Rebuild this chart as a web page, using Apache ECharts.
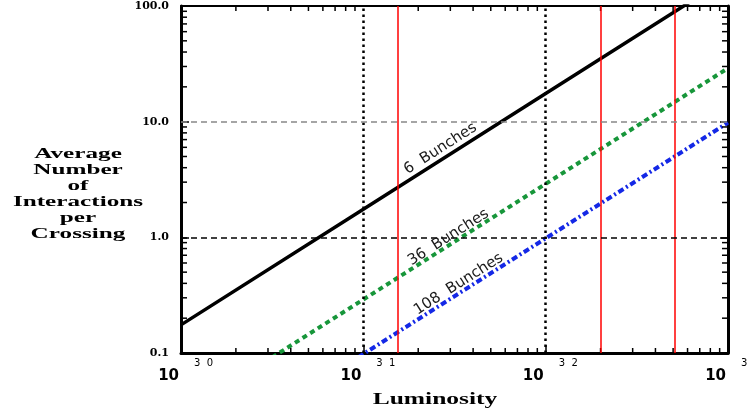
<!DOCTYPE html>
<html><head><meta charset="utf-8">
<script src="https://cdn.jsdelivr.net/npm/echarts@6/dist/echarts.min.js"></script>
<style>html,body{margin:0;padding:0;background:#fff}#c{width:748px;height:413px}</style>
</head><body><div id="c"></div>
<script>
// ---- data ----
const luminosity = [1e30, 1e31, 1e32, 1e33];
const bunches6 = [0.175, 1.75, 17.5, 175];
const bunches36 = [0.029, 0.29, 2.9, 29];
const bunches108 = [0.0098, 0.098, 0.98, 9.8];
const seriesNames = ['6  Bunches', '36  Bunches', '108  Bunches'];
const labelAnchorX = [2.65e31, 2.93e31, 3.33e31];
const labelAnchorY = [5.85, 1.0, 0.394];
const redLines = [1.55e31, 2e32, 5.1e32];
const dottedVerticals = [1e31, 1e32];
const dashedHorizontals = [10, 1];
const xTickBase = '10';
const xTickExponents = ['3  0', '3  1', '3  2', '3  3'];
const yTickLabels = ['0.1', '1.0', '10.0', '100.0'];
const xMinorTicks = [2e30,3e30,4e30,5e30,6e30,7e30,8e30,9e30,
                     2e31,3e31,4e31,5e31,6e31,7e31,8e31,9e31,
                     2e32,3e32,4e32,5e32,6e32,7e32,8e32,9e32];
const yMinorTicks = [0.2,0.3,0.4,0.5,0.6,0.7,0.8,0.9,
                     2,3,4,5,6,7,8,9,
                     20,30,40,50,60,70,80,90];
const yTitle = 'Average\nNumber\nof\nInteractions\nper\nCrossing';
const xTitle = 'Luminosity';

const X_MIN = 1e30, X_MAX = 1e33, Y_MIN = 0.1, Y_MAX = 100;
const pairs = arr => luminosity.map((x, i) => [x, arr[i]]);
const expIdx = v => Math.round(Math.log10(v)) - 30;
const yIdx = v => Math.round(Math.log10(v)) + 1;

const chart = echarts.init(document.getElementById('c'), null, {renderer: 'canvas'});

function lineLabel(i) {
  return {
    symbol: 'circle', symbolSize: 1, silent: true,
    itemStyle: {color: 'rgba(0,0,0,0)'},
    label: {show: true, position: 'inside', formatter: seriesNames[i], rotate: 32.5,
      color: '#1a1a1a', fontSize: 15, fontFamily: 'DejaVu Sans'},
    data: [{coord: [labelAnchorX[i], labelAnchorY[i]], value: 0}]
  };
}

const markLines = [];
dottedVerticals.forEach(v => markLines.push({xAxis: v, lineStyle: {color: '#000', width: 2.5, type: [2.5, 3.5]}}));
redLines.forEach(v => markLines.push({xAxis: v, lineStyle: {color: '#ff0000', width: 1.5, type: 'solid'}}));
dashedHorizontals.forEach(v => markLines.push({yAxis: v, lineStyle: {color: v === 10 ? '#888' : '#000', width: 1.5, type: [6, 4]}}));

const option = {
  animation: false,
  backgroundColor: '#fff',
  grid: {left: 181, right: 20, top: 6, bottom: 60, containLabel: false, outerBoundsMode: 'none'},
  xAxis: [
    {type: 'log', min: X_MIN, max: X_MAX, position: 'bottom',
     axisLine: {show: true, lineStyle: {color: '#000', width: 3}},
     axisTick: {show: true, inside: true, length: 8, lineStyle: {color: '#000', width: 1.5}},
     splitLine: {show: false},
     axisLabel: {formatter: () => xTickBase, align: 'right', margin: 16, padding: [0, 2, 0, 0],
       color: '#000', fontSize: 15, fontWeight: 'bold', fontFamily: 'DejaVu Sans'}},
    {type: 'log', min: X_MIN, max: X_MAX, position: 'top',
     axisLine: {show: true, onZero: false, lineStyle: {color: '#000', width: 2}},
     axisTick: {show: false}, axisLabel: {show: false}, splitLine: {show: false}},
    {type: 'log', min: X_MIN, max: X_MAX, position: 'bottom',
     axisLine: {show: false}, axisTick: {show: false}, splitLine: {show: false},
     axisLabel: {formatter: v => xTickExponents[expIdx(v)], align: 'left', margin: 5, padding: [0, 0, 0, 13],
       color: '#000', fontSize: 10, fontFamily: 'DejaVu Sans'}}
  ],
  yAxis: [
    {type: 'log', min: Y_MIN, max: Y_MAX, position: 'left',
     axisLine: {show: true, lineStyle: {color: '#000', width: 3}},
     axisTick: {show: true, inside: true, length: 8, lineStyle: {color: '#000', width: 1.5}},
     splitLine: {show: false},
     axisLabel: {formatter: v => yTickLabels[yIdx(v)], margin: 12,
       color: '#000', fontSize: 11, fontWeight: 'bold', fontFamily: 'DejaVu Serif'}},
    {type: 'log', min: Y_MIN, max: Y_MAX, position: 'right',
     axisLine: {show: true, lineStyle: {color: '#000', width: 3}},
     axisTick: {show: true, inside: true, length: 8, lineStyle: {color: '#000', width: 1.5}},
     axisLabel: {show: false}, splitLine: {show: false}}
  ],
  graphic: [
    {type: 'text', x: 78, y: 146, scaleX: 1.68, z: 10,
     style: {text: yTitle, textAlign: 'center', textVerticalAlign: 'top', fill: '#000',
       font: 'bold 15px "Liberation Serif"', lineHeight: 16}},
    {type: 'text', x: 435, y: 391, scaleX: 1.5, z: 10,
     style: {text: xTitle, textAlign: 'center', textVerticalAlign: 'top', fill: '#000',
       font: 'bold 17px "Liberation Serif"'}}
  ],
  series: [
    {type: 'line', name: 'refs', data: [], silent: true, z: 1,
     markLine: {silent: true, symbol: ['none', 'none'], label: {show: false}, data: markLines}},
    {type: 'custom', name: 'xminor', silent: true, z: 4, clip: false,
     data: xMinorTicks.map(v => [v, Y_MIN]),
     renderItem: (p, api) => {
       const x = api.value(0);
       const b = api.coord([x, Y_MIN]), t = api.coord([x, Y_MAX]);
       return {type: 'group', children: [
         {type: 'line', shape: {x1: b[0], y1: b[1], x2: b[0], y2: b[1] - 5}, style: {stroke: '#000', lineWidth: 1.5}},
         {type: 'line', shape: {x1: t[0], y1: t[1], x2: t[0], y2: t[1] + 5}, style: {stroke: '#000', lineWidth: 1.5}}
       ]};
     }},
    {type: 'custom', name: 'yminor', silent: true, z: 4, clip: false,
     data: yMinorTicks.map(v => [X_MIN, v]),
     renderItem: (p, api) => {
       const y = api.value(1);
       const l = api.coord([X_MIN, y]), r = api.coord([X_MAX, y]);
       return {type: 'group', children: [
         {type: 'line', shape: {x1: l[0], y1: l[1], x2: l[0] + 6, y2: l[1]}, style: {stroke: '#000', lineWidth: 1.5}},
         {type: 'line', shape: {x1: r[0], y1: r[1], x2: r[0] - 6, y2: r[1]}, style: {stroke: '#000', lineWidth: 1.5}}
       ]};
     }},
    {type: 'line', name: seriesNames[0], data: pairs(bunches6), symbol: 'none', z: 3,
     lineStyle: {color: '#000', width: 3.5, type: 'solid'}, markPoint: lineLabel(0)},
    {type: 'line', name: seriesNames[1], data: pairs(bunches36), symbol: 'none', z: 3,
     lineStyle: {color: '#17963a', width: 4, type: [5, 4]}, markPoint: lineLabel(1)},
    {type: 'line', name: seriesNames[2], data: pairs(bunches108), symbol: 'none', z: 3,
     lineStyle: {color: '#1428e6', width: 4, type: [6, 3, 2, 3]}, markPoint: lineLabel(2)}
  ]
};
chart.setOption(option);
</script>
</body></html>
